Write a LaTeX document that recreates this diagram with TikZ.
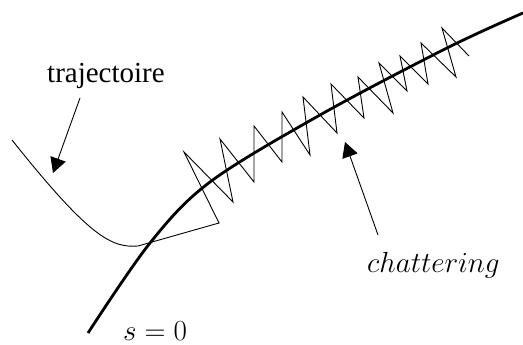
\documentclass[tikz,border=0pt]{standalone}
\usepackage{fontspec}
\setmainfont{Liberation Serif}
\usetikzlibrary{arrows.meta}
\tikzset{
  thinline/.style={line width=0.9pt, line join=miter},
  surface/.style={line width=2.8pt},
  pointer/.style={line width=0.9pt, -{Triangle[length=15pt,width=16pt]}},
  lbl/.style={inner sep=0pt, anchor=base west, font=\fontsize{29}{35}\selectfont},
  mlbl/.style={inner sep=0pt, anchor=base west, font=\fontsize{24.88}{30}\selectfont, scale=1.17}
}
\begin{document}
\begin{tikzpicture}[x=1pt,y=-1pt]
\useasboundingbox (0,0) rectangle (523,345);
% sliding surface
\draw[surface] plot[smooth, tension=0.55] coordinates {(88,333) (150,243) (210,182) (320,115) (447,48) (523,13)};
% trajectory and chattering
\coordinate (t0) at (12,140);
\coordinate (tmin) at (138,246);
\coordinate (hit) at (219,223);
\draw[thinline] (t0) .. controls (90,238) and (112,248) .. (tmin) -- (hit)
  -- (184,152) -- (233,202) -- (220,139) -- (254,182) -- (254,126)
  -- (282,162) -- (282,112) -- (310,155) -- (303,97) -- (337,133)
  -- (331,84) -- (364,118) -- (358,77) -- (393,113) -- (379,63)
  -- (407,91) -- (400,56) -- (428,84) -- (421,43) -- (456,77)
  -- (442,28) -- (469,56);
% labels
\node[lbl] (traj) at (47,83) {trajectoire};
\node[mlbl] (chat) at (367,272) {$chattering$};
\node[mlbl] (surf) at (123,340) {$s=0$};
% pointers
\coordinate (a1s) at (80,98);
\coordinate (a1e) at (53,173);
\coordinate (a2s) at (378,235);
\coordinate (a2e) at (345,142);
\draw[pointer] (a1s) -- (a1e);
\draw[pointer] (a2s) -- (a2e);
\end{tikzpicture}
\end{document}
